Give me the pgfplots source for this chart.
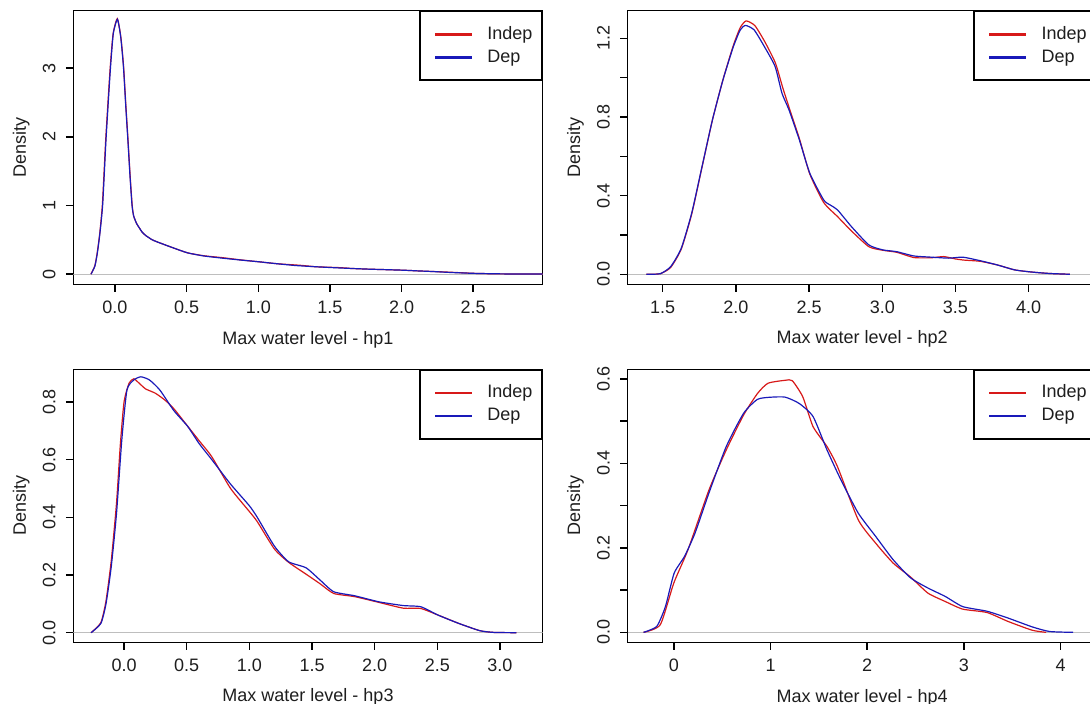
\documentclass[border=0pt]{standalone}
\usepackage{fontspec}
\setmainfont{Liberation Sans}
\usepackage{pgfplots}
\pgfplotsset{compat=1.18}

\definecolor{indep}{RGB}{215,25,25}
\definecolor{dep}{RGB}{25,25,185}
\definecolor{txt}{RGB}{30,30,30}
\definecolor{zline}{RGB}{190,190,190}

\newcommand{\lbl}{\fontsize{9}{11}\selectfont}

\pgfplotsset{
  rpanel/.style={
    scale only axis, width=234.7pt, height=136.8pt, anchor=north west,
    axis line style={line width=0.75pt, black},
    tick align=outside, xtick pos=left, ytick pos=left,
    major tick length=3.75pt,
    every tick/.style={black, line width=0.75pt},
    minor tick num=0,
    /pgf/number format/assume math mode=true,
    tick label style={font=\lbl, text=txt, inner sep=0pt},
    xticklabel style={anchor=north},
    xticklabel shift=4.6pt,
    yticklabel style={rotate=90, anchor=base},
    yticklabel shift=5.25pt,
    label style={font=\lbl, text=txt, inner sep=0pt},
    xlabel style={at={([yshift=-29.85pt]axis description cs:0.5,0)}, anchor=base},
    ylabel style={at={([xshift=-23.65pt]axis description cs:0,0.5)}, anchor=base},
    ylabel={Density},
    legend style={at={(1,1)}, anchor=north east, draw=black, line width=0.75pt,
      fill=white, inner xsep=0pt, inner ysep=5.6pt, row sep=0pt, column sep=0pt,
      font=\lbl, text=txt, nodes={inner sep=0pt}, cells={anchor=west}},
    legend image code/.code={
      \draw[##1, line width=1.3pt] (7.65pt,0pt) -- (25.95pt,0pt);
      \pgfpathrectangle{\pgfpoint{0pt}{-5.8pt}}{\pgfpoint{33.75pt}{11.6pt}}
      \pgfusepath{use as bounding box}
    },
  },
  curve/.style={line width=0.6pt, smooth, tension=0.35},
}

\begin{document}
\begin{tikzpicture}

% hp1
\begin{axis}[rpanel, at={(36.65pt,-5.35pt)},
  xmin=-0.291, xmax=2.985, ymin=-0.1475, ymax=3.835,
  xtick={0,0.5,1,1.5,2,2.5}, xticklabels={0.0,0.5,1.0,1.5,2.0,2.5},
  ytick={0,1,2,3}, yticklabels={0,1,2,3},
  xlabel={Max water level - hp1}]
\addplot[zline, line width=0.5pt, forget plot] coordinates {(-0.291,0) (2.985,0)};
\addplot[indep, curve] coordinates {
(-0.168,0) (-0.141,0.12) (-0.124,0.31) (-0.106,0.6) (-0.089,0.98) (-0.077,1.45)
(-0.065,1.95) (-0.049,2.5) (-0.033,3.02) (-0.013,3.5) (0.016,3.72) (0.041,3.45)
(0.06,3.02) (0.076,2.45) (0.091,1.95) (0.106,1.42) (0.12,1.0) (0.13,0.85)
(0.15,0.74) (0.168,0.68) (0.19,0.61) (0.216,0.56) (0.26,0.5) (0.3,0.465)
(0.41,0.38) (0.507,0.31) (0.62,0.268) (0.75,0.24) (0.88,0.207) (1.005,0.18)
(1.13,0.152) (1.3,0.128) (1.4,0.108) (1.58,0.094) (1.65,0.083) (1.77,0.073)
(1.9,0.065) (2.02,0.057) (2.12,0.047) (2.3,0.032) (2.52,0.011) (2.71,0.004) (2.99,0.001)};
\addlegendentry{\makebox[27.25pt][l]{Indep}}
\addplot[dep, curve] coordinates {
(-0.167,0) (-0.14,0.12) (-0.123,0.31) (-0.105,0.6) (-0.087,0.98) (-0.075,1.45)
(-0.063,1.95) (-0.047,2.5) (-0.031,3.02) (-0.012,3.5) (0.017,3.71) (0.04,3.45)
(0.059,3.02) (0.075,2.45) (0.09,1.95) (0.105,1.42) (0.119,1.0) (0.13,0.85)
(0.15,0.74) (0.168,0.68) (0.19,0.61) (0.216,0.56) (0.26,0.5) (0.3,0.465)
(0.41,0.38) (0.507,0.31) (0.62,0.265) (0.75,0.233) (0.88,0.205) (1.005,0.18)
(1.13,0.152) (1.26,0.126) (1.4,0.108) (1.53,0.094) (1.65,0.083) (1.77,0.073)
(1.9,0.065) (2.02,0.057) (2.12,0.047) (2.21,0.039) (2.35,0.024) (2.52,0.011)
(2.71,0.004) (2.99,0.001)};
\addlegendentry{\makebox[27.25pt][l]{Dep}}
\end{axis}

% hp2
\begin{axis}[rpanel, at={(313.75pt,-5.35pt)},
  xmin=1.26, xmax=4.466, ymin=-0.051, ymax=1.341,
  xtick={1.5,2,2.5,3,3.5,4}, xticklabels={1.5,2.0,2.5,3.0,3.5,4.0},
  ytick={0,0.2,0.4,0.6,0.8,1,1.2}, yticklabels={0.0,,0.4,,0.8,,1.2},
  xlabel={Max water level - hp2}]
\addplot[zline, line width=0.5pt, forget plot] coordinates {(1.26,0) (4.466,0)};
\addplot[indep, curve] coordinates {
(1.389,0) (1.484,0.003) (1.555,0.035) (1.627,0.128) (1.698,0.305) (1.769,0.545)
(1.84,0.785) (1.912,0.99) (1.983,1.165) (2.03,1.255) (2.07,1.289) (2.13,1.265)
(2.2,1.18) (2.27,1.075) (2.32,0.95) (2.363,0.85) (2.434,0.69) (2.505,0.51)
(2.6,0.365) (2.695,0.293) (2.79,0.22) (2.909,0.14) (3.004,0.122) (3.098,0.112)
(3.217,0.085) (3.336,0.084) (3.42,0.09) (3.5,0.078) (3.56,0.072) (3.669,0.066)
(3.788,0.047) (3.906,0.022) (4.025,0.011) (4.143,0.004) (4.281,0)};
\addlegendentry{\makebox[27.25pt][l]{Indep}}
\addplot[dep, curve] coordinates {
(1.389,0) (1.484,0.003) (1.555,0.039) (1.627,0.132) (1.698,0.31) (1.769,0.548)
(1.84,0.785) (1.912,0.989) (1.983,1.158) (2.03,1.243) (2.066,1.266) (2.125,1.243)
(2.195,1.158) (2.268,1.057) (2.315,0.921) (2.363,0.836) (2.434,0.683) (2.505,0.514)
(2.6,0.378) (2.65,0.35) (2.695,0.327) (2.79,0.242) (2.909,0.149) (3.004,0.124)
(3.098,0.115) (3.217,0.093) (3.336,0.087) (3.455,0.082) (3.55,0.087) (3.669,0.069)
(3.788,0.047) (3.906,0.022) (4.025,0.011) (4.143,0.004) (4.281,0)};
\addlegendentry{\makebox[27.25pt][l]{Dep}}
\end{axis}

% hp3
\begin{axis}[rpanel, at={(36.65pt,-184.65pt)}, height=136.5pt,
  xmin=-0.405, xmax=3.341, ymin=-0.0333, ymax=0.913,
  xtick={0,0.5,1,1.5,2,2.5,3}, xticklabels={0.0,0.5,1.0,1.5,2.0,2.5,3.0},
  ytick={0,0.2,0.4,0.6,0.8}, yticklabels={0.0,0.2,0.4,0.6,0.8},
  xlabel={Max water level - hp3}]
\addplot[zline, line width=0.5pt, forget plot] coordinates {(-0.405,0) (3.341,0)};
\addplot[indep, curve] coordinates {
(-0.263,0) (-0.185,0.035) (-0.144,0.11) (-0.102,0.25) (-0.06,0.45) (-0.03,0.65)
(0.0,0.8) (0.04,0.865) (0.078,0.88) (0.12,0.865) (0.172,0.845) (0.25,0.83)
(0.33,0.805) (0.4,0.775) (0.5,0.72) (0.6,0.665) (0.7,0.61) (0.85,0.5)
(1.0,0.42) (1.063,0.385) (1.2,0.29) (1.313,0.244) (1.452,0.203) (1.563,0.17)
(1.673,0.136) (1.84,0.125) (2.034,0.105) (2.228,0.085) (2.367,0.084) (2.506,0.061)
(2.672,0.032) (2.839,0.007) (2.95,0.001) (3.13,0)};
\addlegendentry{\makebox[27.25pt][l]{Indep}}
\addplot[dep, curve] coordinates {
(-0.263,0) (-0.185,0.032) (-0.144,0.10) (-0.102,0.229) (-0.06,0.414) (-0.018,0.668)
(0.023,0.841) (0.078,0.876) (0.134,0.887) (0.203,0.876) (0.286,0.841) (0.397,0.77)
(0.508,0.715) (0.6,0.655) (0.7,0.6) (0.85,0.515) (1.0,0.44) (1.063,0.40)
(1.2,0.30) (1.313,0.246) (1.452,0.225) (1.563,0.183) (1.673,0.142) (1.84,0.128)
(2.034,0.107) (2.228,0.094) (2.367,0.09) (2.506,0.061) (2.672,0.032) (2.839,0.007)
(2.95,0.001) (3.13,0)};
\addlegendentry{\makebox[27.25pt][l]{Dep}}
\end{axis}

% hp4
\begin{axis}[rpanel, at={(313.75pt,-184.65pt)}, height=136.5pt,
  xmin=-0.479, xmax=4.375, ymin=-0.0236, ymax=0.623,
  xtick={0,1,2,3,4}, xticklabels={0,1,2,3,4},
  ytick={0,0.1,0.2,0.3,0.4,0.5,0.6}, yticklabels={0.0,,0.2,,0.4,,0.6},
  xlabel={Max water level - hp4}]
\addplot[zline, line width=0.5pt, forget plot] coordinates {(-0.479,0) (4.375,0)};
\addplot[indep, curve] coordinates {
(-0.313,0) (-0.14,0.018) (0.0,0.117) (0.147,0.196) (0.363,0.337) (0.542,0.432)
(0.722,0.515) (0.866,0.566) (0.974,0.59) (1.153,0.597) (1.225,0.596) (1.333,0.558)
(1.44,0.487) (1.584,0.44) (1.693,0.392) (1.908,0.266) (2.088,0.211) (2.268,0.164)
(2.448,0.131) (2.627,0.093) (2.807,0.073) (2.987,0.055) (3.238,0.047) (3.454,0.026)
(3.705,0.005) (3.85,0)};
\addlegendentry{\makebox[27.25pt][l]{Indep}}
\addplot[dep, curve] coordinates {
(-0.313,0) (-0.177,0.014) (-0.087,0.061) (0.003,0.14) (0.111,0.18) (0.219,0.235)
(0.363,0.33) (0.542,0.44) (0.722,0.519) (0.866,0.552) (1.009,0.557) (1.153,0.557)
(1.297,0.542) (1.44,0.511) (1.584,0.432) (1.728,0.361) (1.908,0.282) (2.088,0.227)
(2.268,0.172) (2.448,0.129) (2.627,0.105) (2.807,0.085) (2.987,0.061) (3.238,0.05)
(3.454,0.034) (3.705,0.013) (3.885,0.002) (4.13,0)};
\addlegendentry{\makebox[27.25pt][l]{Dep}}
\end{axis}

\pgfresetboundingbox
\useasboundingbox (0pt,0pt) rectangle (545pt,-352pt);
\end{tikzpicture}
\end{document}
